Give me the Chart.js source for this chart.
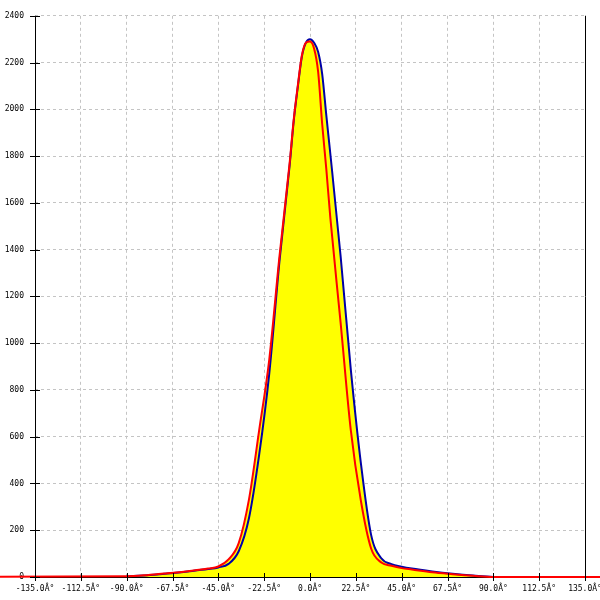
<!DOCTYPE html>
<html>
<head>
<meta charset="utf-8">
<script src="https://cdn.jsdelivr.net/npm/chart.js@4/dist/chart.umd.min.js"></script>
<style>
  body { margin: 0; background: #fff; }
  #wrap { width: 600px; height: 600px; }
</style>
</head>
<body>
<div id="wrap"><canvas id="c" width="600" height="600"></canvas></div>
<script>
// angles in degrees
var angles = [-90, -80, -70, -60, -50, -45, -40, -35, -30, -25, -20, -15, -10, -8, -6, -4, -2, 0, 2, 4, 6, 8, 10, 15, 20, 25, 30, 35, 40, 45, 50, 60, 70, 80, 90];
var blueValues = [3, 8, 15, 24, 34, 41, 56, 110, 250, 520, 870, 1350, 1760, 1950, 2095, 2225, 2285, 2300, 2285, 2245, 2150, 1975, 1808, 1375, 890, 485, 180, 80, 55, 44, 36, 24, 14, 6, 0];
var redValues = [3, 8, 16, 25, 36, 45, 75, 145, 330, 625, 930, 1370, 1770, 1955, 2100, 2230, 2285, 2290, 2260, 2160, 1935, 1745, 1535, 1090, 630, 325, 122, 62, 48, 38, 32, 20, 12, 5, 0];
// red baseline keeps going past the axis ends
var redTailLeft = -200;
var redTailRight = 200;

var xTicks = [-135, -112.5, -90, -67.5, -45, -22.5, 0, 22.5, 45, 67.5, 90, 112.5, 135];
var yTicks = [0, 200, 400, 600, 800, 1000, 1200, 1400, 1600, 1800, 2000, 2200, 2400];

function toPoints(xs, ys) {
    return xs.map(function(x, i) { return { x: x, y: ys[i] }; });
}

var redPts = [{ x: redTailLeft, y: 0 }].concat(toPoints(angles, redValues), [{ x: redTailRight, y: 0 }]);
var bluePts = toPoints(angles, blueValues);

// axis lines go over the yellow fill but under the curves
var axisLines = {
    id: 'axisLines',
    beforeDatasetsDraw: function(chart) {
        var ctx = chart.ctx, a = chart.chartArea;
        ctx.save();
        ctx.strokeStyle = '#000';
        ctx.lineWidth = 1;
        ctx.beginPath();
        var lx = Math.round(a.left) + 0.5, by = Math.round(a.bottom) + 0.5;
        ctx.moveTo(lx, a.top);
        ctx.lineTo(lx, a.bottom);
        ctx.moveTo(a.left, by);
        ctx.lineTo(a.right, by);
        var rx = Math.round(a.right) + 0.5;
        ctx.moveTo(rx, a.top);
        ctx.lineTo(rx, a.bottom);
        ctx.stroke();
        ctx.restore();
    },
    afterDatasetsDraw: function(chart) {
        var ctx = chart.ctx, a = chart.chartArea;
        var sx = chart.scales.x, sy = chart.scales.y;
        ctx.save();
        ctx.strokeStyle = '#000';
        ctx.lineWidth = 1;
        ctx.beginPath();
        yTicks.forEach(function(v) {
            var py = Math.round(sy.getPixelForValue(v)) + 0.5;
            ctx.moveTo(a.left - 5, py);
            ctx.lineTo(a.left + 5, py);
        });
        xTicks.forEach(function(v) {
            var px = Math.round(sx.getPixelForValue(v)) + 0.5;
            ctx.moveTo(px, a.bottom - 4);
            ctx.lineTo(px, a.bottom + 4);
        });
        ctx.stroke();
        ctx.restore();
    }
};

new Chart(document.getElementById('c').getContext('2d'), {
    type: 'line',
    data: {
        datasets: [{
            label: 'red',
            data: redPts,
            borderColor: '#ff0000',
            backgroundColor: '#ffff00',
            borderWidth: 2,
            pointRadius: 0,
            fill: 'origin',
            cubicInterpolationMode: 'monotone',
            clip: false
        }, {
            label: 'blue',
            data: bluePts,
            borderColor: '#0000a8',
            backgroundColor: '#ffff00',
            borderWidth: 2,
            pointRadius: 0,
            fill: 'origin',
            cubicInterpolationMode: 'monotone'
        }]
    },
    options: {
        responsive: false,
        animation: false,
        layout: { autoPadding: false, padding: { top: 15, right: 15, left: 0, bottom: 0 } },
        plugins: {
            legend: { display: false },
            tooltip: { enabled: false },
            filler: { drawTime: 'beforeDatasetsDraw' }
        },
        scales: {
            x: {
                type: 'linear',
                min: -135,
                max: 135,
                afterBuildTicks: function(scale) {
                    scale.ticks = xTicks.map(function(v) { return { value: v }; });
                },
                afterFit: function(scale) {
                    scale.height = 23;
                    scale.paddingLeft = 0;
                    scale.paddingRight = 0;
                },
                grid: { color: '#c4c4c4', drawTicks: false },
                border: { display: false, dash: [3, 3] },
                ticks: {
                    autoSkip: false,
                    maxRotation: 0,
                    padding: 7,
                    color: '#000',
                    font: { family: 'DejaVu Sans Mono', size: 8 },
                    callback: function(v) { return v.toFixed(1) + '\u00C2\u00B0'; }
                }
            },
            y: {
                min: 0,
                max: 2400,
                afterBuildTicks: function(scale) {
                    scale.ticks = yTicks.map(function(v) { return { value: v }; });
                },
                afterFit: function(scale) { scale.width = 35; },
                grid: { color: '#c4c4c4', drawTicks: false },
                border: { display: false, dash: [3, 3] },
                ticks: {
                    padding: 11,
                    color: '#000',
                    font: { family: 'DejaVu Sans Mono', size: 8 },
                    callback: function(v) { return String(v); }
                }
            }
        }
    },
    plugins: [axisLines]
});
</script>
</body>
</html>
